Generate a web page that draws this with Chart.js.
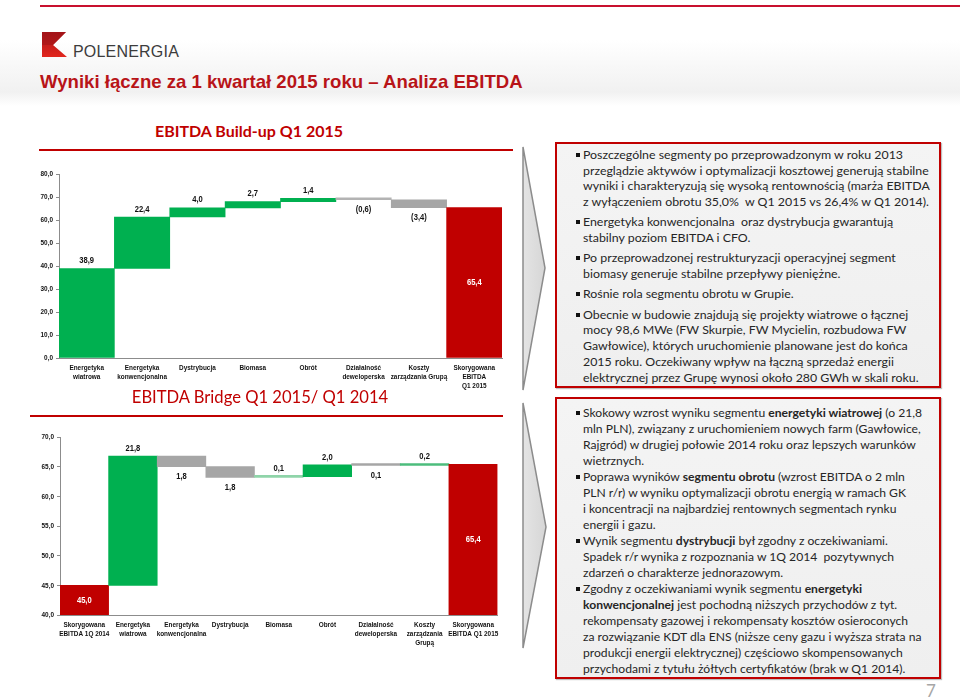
<!DOCTYPE html>
<html><head><meta charset="utf-8">
<script src="https://cdn.jsdelivr.net/npm/chart.js@4"></script>
<style>
html,body{margin:0;padding:0;}
body{width:960px;height:697px;position:relative;overflow:hidden;background:#fff;font-family:Lato,'Open Sans',sans-serif;}
.abs{position:absolute;}
.hdrbg{left:0;top:0;width:960px;height:108px;background:linear-gradient(to bottom,#ffffff 0px,#ffffff 40px,#f1f1f1 92px,#ffffff 106px);}
.title{left:40px;top:72.5px;font:bold 18.6px 'Liberation Sans',Arial,sans-serif;line-height:18.6px;color:#b81418;white-space:nowrap;}
.brand{left:73px;top:43.5px;font:16px 'Liberation Sans',Arial,sans-serif;line-height:16px;color:#3c3c3c;letter-spacing:0.2px;}
.ctitle{color:#c00000;white-space:nowrap;text-align:center;}
.rule{height:2px;background:#c00000;}
.box{box-sizing:border-box;border:2px solid #c00000;background:linear-gradient(to bottom,#f4f4f4,#efefef);box-shadow:1px 1px 1px rgba(0,0,0,0.25);}
.box ul{list-style:none;margin:0;padding:0;position:absolute;left:26px;white-space:nowrap;color:#262626;}
.box li{position:relative;}
.box li::before{content:"";position:absolute;left:-7px;width:4px;height:4px;background:#111;}
.b1 ul{top:3px;line-height:15.7px;}
.b1 li{margin-bottom:4.6px;}
.b1 li::before{top:6px;}
.b2 ul{top:6px;line-height:16px;}
.b2 li::before{top:6px;}
.pnum{left:926px;top:680px;font:17px Lato,sans-serif;color:#a6a6a6;}
</style></head><body>
<div class="abs hdrbg"></div>
<div class="abs" style="left:40px;top:5px;width:920px;height:2px;background:#c8102e"></div>
<svg class="abs" style="left:0;top:0" width="960" height="697">
  <defs>
    <linearGradient id="lg" x1="0" y1="0" x2="0" y2="1">
      <stop offset="0" stop-color="#a8151a"/><stop offset="1" stop-color="#e2261d"/>
    </linearGradient>
    <linearGradient id="ag" x1="0" y1="0" x2="1" y2="0">
      <stop offset="0" stop-color="#e4e4e4"/><stop offset="1" stop-color="#d6d6d6"/>
    </linearGradient>
  </defs>
  <polygon points="42,32 66,32 53,45 67,57 42,57" fill="url(#lg)"/>
  <polygon points="42,32 66,32 53,45 42,45" fill="#9e1417" opacity="0.55"/>
  <polygon points="523,147 545,268 523,390" fill="url(#ag)" stroke="#8c8c8c" stroke-width="1.5"/>
  <polygon points="523,403 546,527 523,648" fill="url(#ag)" stroke="#8c8c8c" stroke-width="1.5"/>
</svg>
<div class="abs brand">POLENERGIA</div>
<div class="abs title">Wyniki łączne za 1 kwartał 2015 roku – Analiza EBITDA</div>

<div class="abs ctitle" style="left:149px;top:122.5px;width:200px;font:bold 16px Lato,sans-serif;line-height:16px;">EBITDA Build-up Q1 2015</div>
<div class="abs rule" style="left:39px;top:149px;width:474px;"></div>
<canvas id="c1" class="abs" style="left:20px;top:160px" width="490" height="235"></canvas>

<div class="abs ctitle" style="left:130px;top:389px;width:260px;font:16.6px Lato,sans-serif;line-height:16.6px;">EBITDA Bridge Q1 2015/ Q1 2014</div>
<div class="abs rule" style="left:30px;top:415px;width:473px;"></div>
<canvas id="c2" class="abs" style="left:20px;top:425px" width="490" height="230"></canvas>

<div class="abs box b1" style="left:555px;top:142px;width:386px;height:246px;">
<ul>
<li>Poszczególne segmenty po przeprowadzonym w roku 2013<br>przeglądzie aktywów i optymalizacji kosztowej generują stabilne<br>wyniki i charakteryzują się wysoką rentownością (marża EBITDA<br>z wyłączeniem obrotu 35,0%&nbsp; w Q1 2015 vs 26,4% w Q1 2014).</li>
<li>Energetyka konwencjonalna&nbsp; oraz dystrybucja gwarantują<br>stabilny poziom EBITDA i CFO.</li>
<li>Po przeprowadzonej restrukturyzacji operacyjnej segment<br>biomasy generuje stabilne przepływy pieniężne.</li>
<li>Rośnie rola segmentu obrotu w Grupie.</li>
<li>Obecnie w budowie znajdują się projekty wiatrowe o łącznej<br>mocy 98,6 MWe (FW Skurpie, FW Mycielin, rozbudowa FW<br>Gawłowice), których uruchomienie planowane jest do końca<br>2015 roku. Oczekiwany wpływ na łączną sprzedaż energii<br>elektrycznej przez Grupę wynosi około 280 GWh w skali roku.</li>
</ul>
</div>
<div class="abs box b2" style="left:555px;top:397px;width:386px;height:282px;">
<ul>
<li>Skokowy wzrost wyniku segmentu <b>energetyki wiatrowej</b> (o 21,8<br>mln PLN), związany z uruchomieniem nowych farm (Gawłowice,<br>Rajgród) w drugiej połowie 2014 roku oraz lepszych warunków<br>wietrznych.</li>
<li>Poprawa wyników <b>segmentu obrotu</b> (wzrost EBITDA o 2 mln<br>PLN r/r) w wyniku optymalizacji obrotu energią w ramach GK<br>i koncentracji na najbardziej rentownych segmentach rynku<br>energii i gazu.</li>
<li>Wynik segmentu <b>dystrybucji</b> był zgodny z oczekiwaniami.<br>Spadek r/r wynika z rozpoznania w 1Q 2014&nbsp; pozytywnych<br>zdarzeń o charakterze jednorazowym.</li>
<li>Zgodny z oczekiwaniami wynik segmentu <b>energetyki<br>konwencjonalnej</b> jest pochodną niższych przychodów z tyt.<br>rekompensaty gazowej i rekompensaty kosztów osieroconych<br>za rozwiązanie KDT dla ENS (niższe ceny gazu i wyższa strata na<br>produkcji energii elektrycznej) częściowo skompensowanych<br>przychodami z tytułu żółtych certyfikatów (brak w Q1 2014).</li>
</ul>
</div>
<div class="abs pnum">7</div>

<script>
// ---- Data ----
const buildupCategories = [["Energetyka","wiatrowa"],["Energetyka","konwencjonalna"],["Dystrybucja"],["Biomasa"],["Obrót"],["Działalność","deweloperska"],["Koszty","zarządzania Grupą"],["Skorygowana","EBITDA","Q1 2015"]];
const buildupSteps = [38.9, 22.4, 4.0, 2.7, 1.4, -0.6, -3.4];
const buildupTotal = 65.4;
const buildupTicks = [0, 10, 20, 30, 40, 50, 60, 70, 80];

const bridgeCategories = [["Skorygowana","EBITDA 1Q 2014"],["Energetyka","wiatrowa"],["Energetyka","konwencjonalna"],["Dystrybucja"],["Biomasa"],["Obrót"],["Działalność","deweloperska"],["Koszty","zarządzania","Grupą"],["Skorygowana","EBITDA Q1 2015"]];
const bridgeStart = 45.0;
const bridgeSteps = [21.8, -1.8, -1.8, 0.1, 2.0, -0.1, 0.2];
const bridgeEnd = 65.4;
const bridgeTicks = [40, 45, 50, 55, 60, 65, 70];

// ---- Styles ----
const GREEN = '#00b050', GRAY = '#a6a6a6', RED = '#c00000';
const buildupColors = [GREEN, GREEN, GREEN, GREEN, GREEN, '#b3b3b3', GRAY, RED];
const bridgeColors = [RED, GREEN, GRAY, GRAY, '#8fd4a9', GREEN, '#a6a6a6', '#4cbd7c', RED];
const FONT = "'Liberation Sans',Arial,sans-serif";
const SQUEEZE = 0.8; // emulate the narrow face of the original

const fmt = v => Math.abs(v).toFixed(1).replace('.', ',');

// condensed text drawing for axis labels (Arial Narrow look)
const protoFill = CanvasRenderingContext2D.prototype.fillText;
function withCondensed(ctx, fn) {
  ctx.fillText = function (t, x, y, mw) {
    this.save(); this.translate(x, y); this.scale(SQUEEZE, 1);
    protoFill.call(this, t, 0, 0, mw); this.restore();
  };
  try { fn(); } finally { delete ctx.fillText; }
}
class CondCategory extends Chart.CategoryScale {
  drawLabels(area) { withCondensed(this.ctx, () => super.drawLabels(area)); }
}
CondCategory.id = 'condCategory';
CondCategory.defaults = Chart.CategoryScale.defaults;
class CondLinear extends Chart.LinearScale {
  drawLabels(area) { withCondensed(this.ctx, () => super.drawLabels(area)); }
}
CondLinear.id = 'condLinear';
CondLinear.defaults = Chart.LinearScale.defaults;
Chart.register(CondCategory, CondLinear);

function waterfall(base, start, steps, end) {
  const bars = [], kinds = [];
  let cum = start === null ? base : start;
  if (start !== null) { bars.push([base, start]); kinds.push('total'); }
  steps.forEach(v => { bars.push([cum, cum + v]); kinds.push(v >= 0 ? 'up' : 'down'); cum += v; });
  bars.push([base, end]); kinds.push('total');
  return {bars, kinds};
}

const labelPlugin = {
  id: 'wfLabels',
  afterDatasetsDraw(chart, args, opts) {
    const ctx = chart.ctx, meta = chart.getDatasetMeta(0), y = chart.scales.y;
    const data = chart.data.datasets[0].data;
    ctx.save();
    ctx.font = 'bold 9.5px ' + FONT;
    ctx.textAlign = 'center'; ctx.textBaseline = 'middle';
    withCondensed(ctx, () => {
      meta.data.forEach((bar, i) => {
        const [a, b] = data[i];
        const kind = opts.kinds[i];
        const t = opts.texts[i];
        if (kind === 'total') {
          ctx.fillStyle = '#fff';
          ctx.fillText(t, bar.x, (y.getPixelForValue(a) + y.getPixelForValue(b)) / 2);
        } else if (kind === 'up') {
          ctx.fillStyle = '#111';
          ctx.fillText(t, bar.x, y.getPixelForValue(b) - 8);
        } else {
          ctx.fillStyle = '#111';
          ctx.fillText(t, bar.x, y.getPixelForValue(b) + 10);
        }
      });
    });
    ctx.restore();
  }
};

function makeChart(id, cats, wf, colors, ticks, texts, yWidth, xHeight, pad) {
  return new Chart(document.getElementById(id), {
    type: 'bar',
    data: {labels: cats, datasets: [{data: wf.bars, backgroundColor: colors, borderWidth: 0,
      barPercentage: 1, categoryPercentage: 1, minBarLength: 2}]},
    options: {
      responsive: false, animation: false, events: [],
      layout: {padding: pad},
      plugins: {legend: {display: false}, tooltip: {enabled: false}, wfLabels: {texts, kinds: wf.kinds}},
      scales: {
        x: {type: 'condCategory', grid: {display: false, drawTicks: false}, border: {display: true, color: '#8c8c8c'},
            ticks: {font: {family: FONT, size: 8, weight: 'bold', lineHeight: 1.12}, color: '#111', maxRotation: 0, minRotation: 0, autoSkip: false, padding: 5},
            afterFit: s => { s.height = xHeight; }},
        y: {type: 'condLinear', min: ticks[0], max: ticks[ticks.length - 1],
            grid: {drawOnChartArea: false, tickLength: 3, color: '#8c8c8c'}, border: {color: '#8c8c8c'},
            ticks: {font: {family: FONT, size: 8, weight: 'bold'}, color: '#111', padding: 3, callback: v => fmt(v)},
            afterBuildTicks: s => { s.ticks = ticks.map(v => ({value: v})); },
            afterFit: s => { s.width = yWidth; }}
      }
    },
    plugins: [labelPlugin]
  });
}

const wf1 = waterfall(0, null, buildupSteps, buildupTotal);
const texts1 = buildupSteps.map(v => v < 0 ? '(' + fmt(v) + ')' : fmt(v)).concat([fmt(buildupTotal)]);
makeChart('c1', buildupCategories, wf1, buildupColors, buildupTicks, texts1, 39, 37, {left: 0, top: 14, right: 8, bottom: 0});

const wf2 = waterfall(40, bridgeStart, bridgeSteps, bridgeEnd);
const texts2 = [fmt(bridgeStart)].concat(bridgeSteps.map(fmt)).concat([fmt(bridgeEnd)]);
makeChart('c2', bridgeCategories, wf2, bridgeColors, bridgeTicks, texts2, 40, 40, {left: 0, top: 12, right: 8, bottom: 0});

// fit right-hand text to the reference line widths
function fitBox(sel, refLine, target) {
  const ul = document.querySelector(sel + ' ul');
  ul.style.fontSize = '13px';
  const probe = document.createElement('span');
  probe.style.whiteSpace = 'nowrap';
  probe.style.position = 'absolute';
  probe.style.visibility = 'hidden';
  probe.textContent = refLine;
  ul.appendChild(probe);
  const w = probe.getBoundingClientRect().width;
  ul.removeChild(probe);
  ul.style.fontSize = (13 * target / w).toFixed(2) + 'px';
}
function fitAll() {
  fitBox('.b1', 'przeglądzie aktywów i optymalizacji kosztowej generują stabilne', 346);
  fitBox('.b2', 'za rozwiązanie KDT dla ENS (niższe ceny gazu i wyższa strata na', 339);
}
fitAll();
if (document.fonts && document.fonts.ready) document.fonts.ready.then(fitAll);
</script>
</body></html>
